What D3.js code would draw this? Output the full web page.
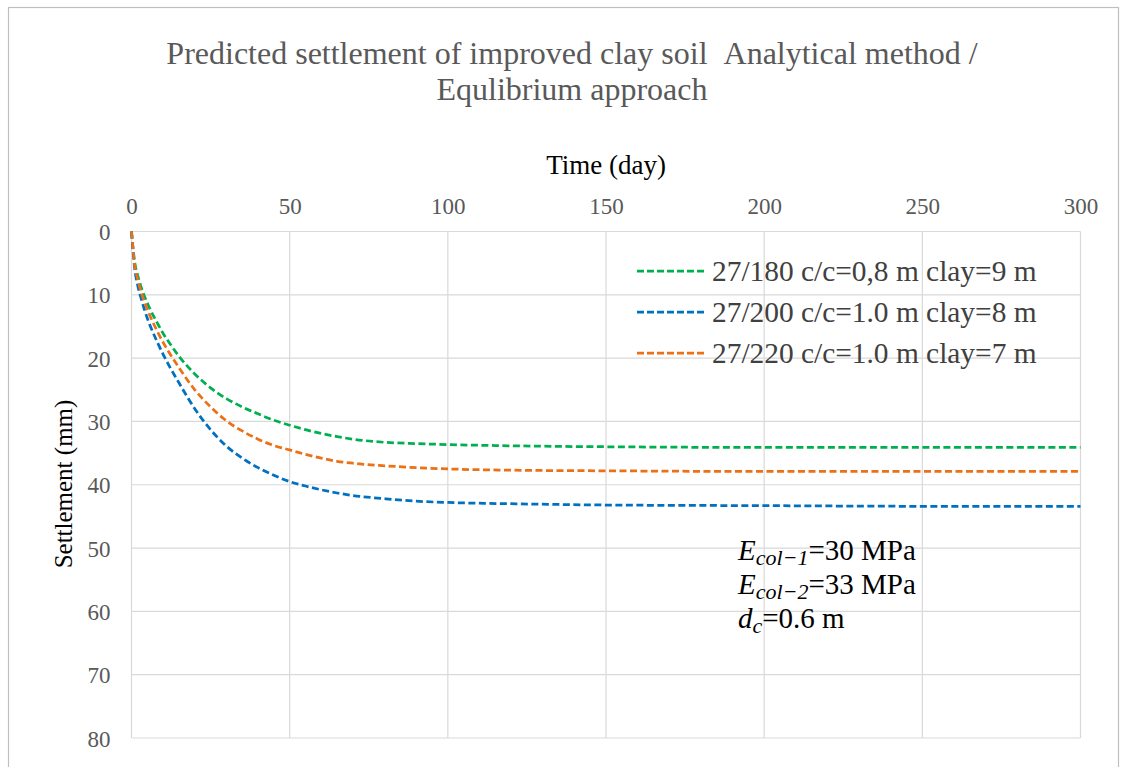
<!DOCTYPE html>
<html><head><meta charset="utf-8">
<script src="https://cdn.jsdelivr.net/npm/d3@7"></script>
<style>body{margin:0;background:#fff}svg{display:block}</style>
</head><body>
<svg id="chart" width="1126" height="767"></svg>
<script>
const days = [0,1,2,3,4,5,6,8,10,12,15,20,25,30,35,40,45,50,55,60,65,70,80,90,100,120,150,200,250,300];
const green180 = [0,4.8,7.0,8.7,10.1,11.3,12.4,14.3,16.1,17.6,19.7,22.5,24.7,26.4,27.7,28.8,29.8,30.6,31.3,31.9,32.4,32.8,33.3,33.5,33.65,33.85,34.0,34.1,34.1,34.1];
const blue200 = [0,5.8,8.6,10.5,12.2,13.7,15.0,17.3,19.4,21.3,23.9,28.0,31.3,33.9,35.8,37.3,38.5,39.5,40.2,40.8,41.3,41.7,42.2,42.6,42.8,43.0,43.2,43.3,43.4,43.4];
const orange220 = [0,5.3,7.6,9.5,11.0,12.3,13.5,15.6,17.5,19.2,21.5,25.0,27.7,29.9,31.5,32.8,33.8,34.5,35.2,35.8,36.3,36.6,37.0,37.3,37.5,37.7,37.8,37.9,37.9,37.9];
const seriesNames = ["27/180 c/c=0,8 m clay=9 m","27/200 c/c=1.0 m clay=8 m","27/220 c/c=1.0 m clay=7 m"];
const xTicks = [0,50,100,150,200,250,300];
const yTicks = [0,10,20,30,40,50,60,70,80];
const titleLines = ["Predicted settlement of improved clay soil\u00a0\u00a0Analytical method /","Equlibrium approach"];

const colors = ["#00B050","#0070C0","#EC7016"];
const seriesData = [green180, blue200, orange220];

const svg = d3.select("#chart");
const serif = "'Liberation Serif','Times New Roman',serif";

svg.append("rect").attr("x",8.5).attr("y",7.5).attr("width",1110).attr("height",800)
  .attr("fill","#fff").attr("stroke","#bfbfbf").attr("stroke-width",1.2);

const x = d3.scaleLinear().domain([0,300]).range([131.5,1080.5]);
const y = d3.scaleLinear().domain([0,80]).range([231.5,738]);

// grid
svg.append("g").selectAll("line").data(xTicks).join("line")
  .attr("x1",d=>x(d)).attr("x2",d=>x(d)).attr("y1",y(0)).attr("y2",y(80))
  .attr("stroke","#d9d9d9").attr("stroke-width",1.2);
svg.append("g").selectAll("line").data(yTicks).join("line")
  .attr("x1",x(0)).attr("x2",x(300)).attr("y1",d=>y(d)).attr("y2",d=>y(d))
  .attr("stroke","#d9d9d9").attr("stroke-width",1.2);

// tick labels
const xAxis = svg.append("g").attr("transform",`translate(0,${y(0)-18})`)
  .call(d3.axisTop(x).tickValues(xTicks).tickSize(0).tickPadding(0));
xAxis.select(".domain").remove();
xAxis.attr("font-family",serif);
xAxis.selectAll("text").attr("font-family",serif).attr("font-size",23).attr("fill","#595959");

const yAxis = svg.append("g").attr("transform",`translate(${x(0)-21},0)`)
  .call(d3.axisLeft(y).tickValues(yTicks).tickSize(0).tickPadding(0));
yAxis.select(".domain").remove();
yAxis.attr("font-family",serif);
yAxis.selectAll("text").attr("font-family",serif).attr("font-size",23).attr("fill","#595959").attr("dy","0.35em");

// lines
const line = d3.line().x((d,i)=>x(days[i])).y(d=>y(d)).curve(d3.curveMonotoneX);
seriesData.forEach((s,k)=>{
  svg.append("path").datum(s).attr("d",line).attr("fill","none")
    .attr("stroke",colors[k]).attr("stroke-width",2.75).attr("stroke-dasharray","7,3.5");
});

// titles
const t = svg.append("text").attr("x",572).attr("y",64).attr("text-anchor","middle")
  .attr("font-family",serif).attr("font-size",32).attr("fill","#595959");
titleLines.forEach((l,i)=>t.append("tspan").attr("x",572).attr("dy",i?36:0).text(l));

svg.append("text").attr("x",606).attr("y",174).attr("text-anchor","middle")
  .attr("font-family",serif).attr("font-size",27).attr("fill","#000").text("Time (day)");
svg.append("text").attr("transform","translate(72,484) rotate(-90)").attr("text-anchor","middle")
  .attr("font-family",serif).attr("font-size",25).attr("fill","#000").text("Settlement (mm)");

// legend
const lg = svg.append("g");
[271,312,353].forEach((ly,i)=>{
  lg.append("line").attr("x1",637).attr("x2",706).attr("y1",ly).attr("y2",ly)
    .attr("stroke",colors[i]).attr("stroke-width",2.75).attr("stroke-dasharray","7,3");
  lg.append("text").attr("x",712).attr("y",ly+10).attr("font-family",serif).attr("font-size",29.4)
    .attr("fill","#404040").text(seriesNames[i]);
});

// annotation
const ann = [["E","col−1","=30 MPa"],["E","col−2","=33 MPa"],["d","c","=0.6 m"]];
ann.forEach((a,i)=>{
  const tx = svg.append("text").attr("x",738).attr("y",560+i*34).attr("font-family",serif)
    .attr("font-size",29).attr("fill","#000");
  tx.append("tspan").attr("font-style","italic").text(a[0]);
  tx.append("tspan").attr("font-style","italic").attr("font-size",22).attr("dy",5).text(a[1]);
  tx.append("tspan").attr("dy",-5).text(a[2]);
});
</script>
</body></html>
